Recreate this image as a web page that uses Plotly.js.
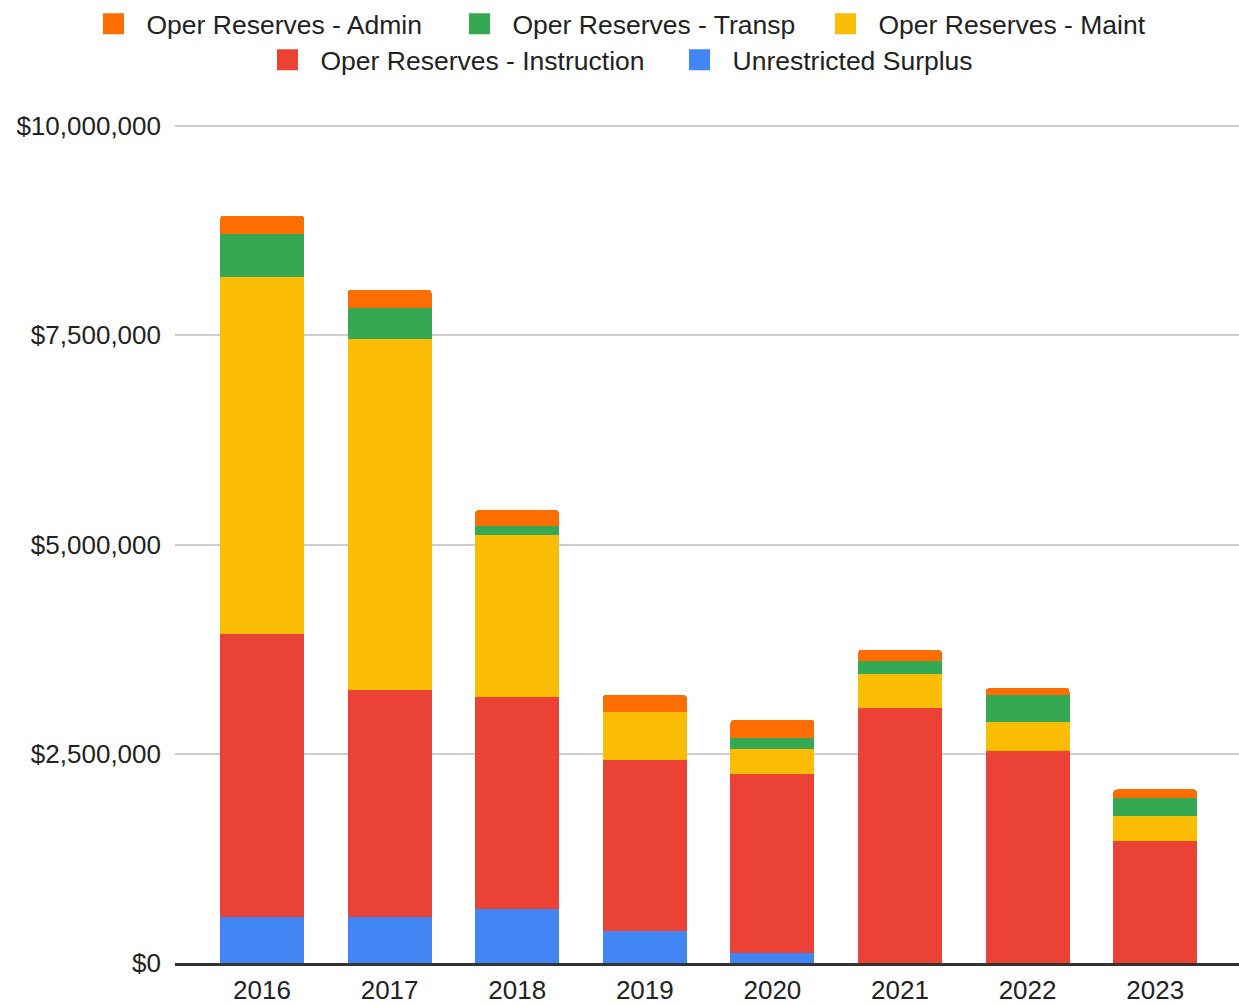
<!DOCTYPE html>
<html>
<head>
<meta charset="utf-8">
<script src="https://cdn.plot.ly/plotly-3.0.1.min.js"></script>
<style>
html,body{margin:0;padding:0;background:#fff;}
#chart{width:1239px;height:1004px;}
</style>
</head>
<body>
<div id="chart"></div>
<script>
// Data (US dollars)
var years = ["2016", "2017", "2018", "2019", "2020", "2021", "2022", "2023"];
var unrestricted = [545000, 545000, 649000, 386000, 119000, 0, 0, 0];
var instruction  = [3388000, 2719000, 2531000, 2038000, 2145000, 3045000, 2535000, 1461000];
var maint        = [4267000, 4189000, 1935000, 569000, 295000, 402000, 350000, 295000];
var transp       = [514000, 377000, 107000, 0, 135000, 160000, 319000, 210000];
var admin        = [215000, 211000, 188000, 211000, 212000, 135000, 80000, 108000];

var seriesNames = ["Unrestricted Surplus", "Oper Reserves - Instruction", "Oper Reserves - Maint", "Oper Reserves - Transp", "Oper Reserves - Admin"];
var seriesColors = ["#4285f4", "#ea4335", "#fbbc04", "#34a853", "#ff6d01"];
var seriesValues = [unrestricted, instruction, maint, transp, admin];
var seriesLegend = ["legend2", "legend2", "legend", "legend", "legend"];
var yTicks = [0, 2500000, 5000000, 7500000, 10000000];
var yTickLabels = ["$0", "$2,500,000", "$5,000,000", "$7,500,000", "$10,000,000"];

var FONT = '"Liberation Sans", Arial, sans-serif';
var TEXT = '#222222';

var traces = [];
// bars (no legend entries)
for (var i = 0; i < seriesNames.length; i++) {
  traces.push({
    type: 'bar',
    name: seriesNames[i],
    x: years,
    y: seriesValues[i],
    marker: {color: seriesColors[i], line: {width: 0}},
    showlegend: false,
    hoverinfo: 'x+y+name'
  });
}
// legend proxies (bigger symbols than bar legend allows)
for (var j = 0; j < seriesNames.length; j++) {
  traces.push({
    type: 'scatter',
    mode: 'markers',
    name: seriesNames[j],
    x: [null],
    y: [null],
    marker: {symbol: 'square', size: 16, color: seriesColors[j], line: {color: seriesColors[j], width: 5}},
    legend: seriesLegend[j],
    showlegend: true,
    hoverinfo: 'skip'
  });
}

var legendCommon = {
  orientation: 'h',
  yanchor: 'middle',
  traceorder: 'reversed',
  font: {family: FONT, size: 26.5, color: TEXT},
  itemwidth: 56,
  entrywidthmode: 'pixels',
  bgcolor: 'rgba(0,0,0,0)',
  borderwidth: 0
};

var layout = {
  width: 1239,
  height: 1004,
  paper_bgcolor: '#ffffff',
  plot_bgcolor: '#ffffff',
  barmode: 'stack',
  bargap: 0.342,
  barcornerradius: 4,
  margin: {l: 175, r: 0, t: 124, b: 41, pad: 0},
  font: {family: FONT, size: 26, color: TEXT},
  showlegend: true,
  legend: Object.assign({}, legendCommon, {
    xref: 'paper', yref: 'paper', xanchor: 'left',
    x: (80.5 - 175) / 1064, y: (963 - 24) / 839, entrywidth: 295
  }),
  legend2: Object.assign({}, legendCommon, {
    xref: 'container', yref: 'container', xanchor: 'center',
    x: 666.5 / 1239, y: 1 - 60 / 1004, entrywidth: 341
  }),
  xaxis: {
    type: 'category',
    range: [-0.682, 7.657],
    showgrid: false,
    showline: true,
    linecolor: '#333333',
    linewidth: 3,
    ticks: '',
    tickfont: {family: FONT, size: 26, color: TEXT},
    ticklabelstandoff: 2,
    fixedrange: true
  },
  yaxis: {
    range: [0, 10024000],
    tickvals: yTicks,
    ticktext: yTickLabels,
    showgrid: true,
    gridcolor: '#cccccc',
    gridwidth: 2,
    zeroline: false,
    showline: false,
    ticks: '',
    tickfont: {family: FONT, size: 26, color: TEXT},
    ticklabelstandoff: 13,
    fixedrange: true
  }
};

Plotly.newPlot('chart', traces, layout, {displayModeBar: false, responsive: false});
</script>
</body>
</html>
